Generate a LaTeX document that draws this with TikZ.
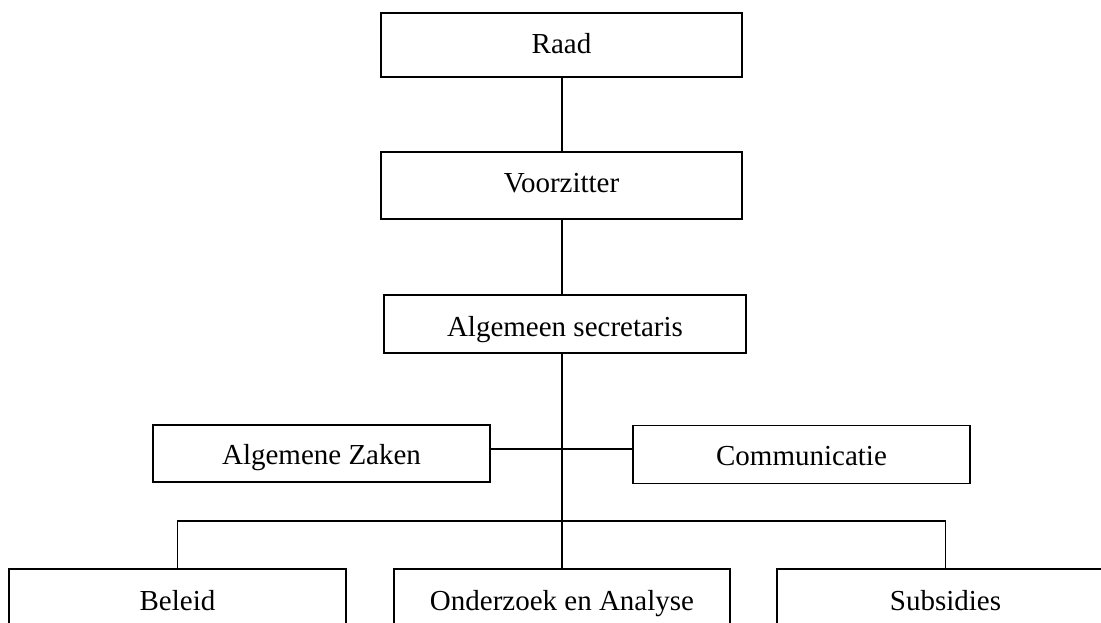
\documentclass[tikz,border=0pt]{standalone}
\usepackage{fontspec}
\setmainfont{Liberation Serif}
\begin{document}
\begin{tikzpicture}[x=1pt,y=-1pt,
  box/.style={draw, line width=1.3pt, rectangle, inner sep=0pt,
    minimum width=337pt, minimum height=58pt,
    font=\fontsize{29}{34}\selectfont, text height=30pt, text depth=#1},
  box/.default=10pt,
  conn/.style={line width=1.3pt}]
\useasboundingbox (0,0) rectangle (1101,622);
\clip (0,0) rectangle (1101,622);
\node[box=13.4pt, minimum width=361pt, minimum height=64pt] (raad) at (561.5,45) {Raad};
\node[box=15.6pt, minimum width=361pt, minimum height=67pt] (vz) at (561.5,185.5) {Voorzitter};
\node[box=6pt, minimum width=362pt, minimum height=58pt] (as) at (565,324) {Algemeen secretaris};
\node[box=8pt, minimum height=57pt] (az) at (321.5,453.5) {Algemene Zaken};
\node[box=8pt, minimum height=58pt] (com) at (801.5,454.5) {Communicatie};
\node[box=14pt, minimum height=66pt] (bel) at (177.5,602) {Beleid};
\node[box=14pt, minimum width=336pt, minimum height=66pt] (oa) at (562,602) {Onderzoek en Analyse};
\node[box=14pt, minimum height=66pt] (sub) at (945.5,602) {Subsidies};
\coordinate (hz) at (0,449);
\coordinate (bus) at (0,521);
\draw[conn] (oa.north |- raad.south) -- (oa.north |- vz.north);
\draw[conn] (oa.north |- vz.south) -- (oa.north |- as.north);
\draw[conn] (oa.north |- as.south) -- (oa.north);
\draw[conn] (az.east |- hz) -- (com.west |- hz);
\draw[conn] (bel.north) -- (bel.north |- bus) -- (sub.north |- bus) -- (sub.north);
\end{tikzpicture}
\end{document}
